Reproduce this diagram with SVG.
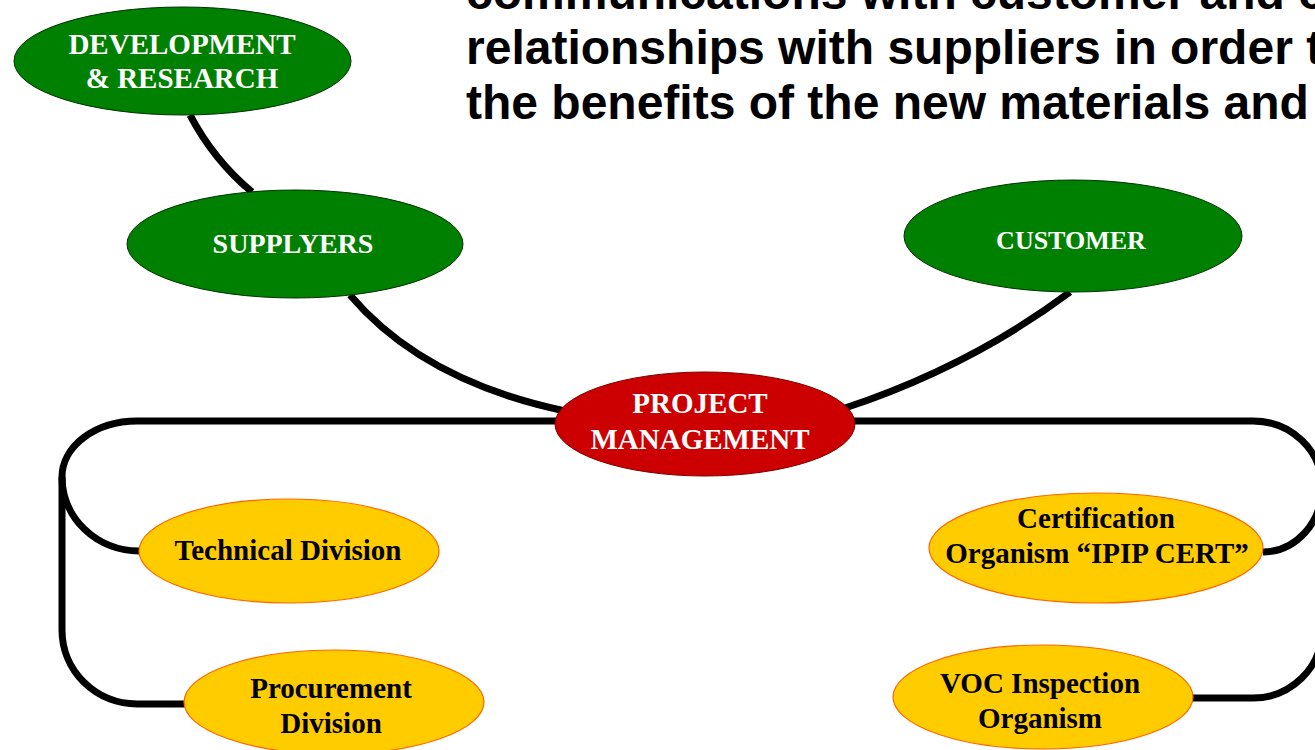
<svg xmlns="http://www.w3.org/2000/svg" width="1315" height="750" viewBox="0 0 1315 750">
<style>
.title{font-family:"Liberation Sans",Arial,sans-serif;font-weight:bold;font-size:48px;fill:#000}
.lbl{font-family:"Liberation Serif","Times New Roman",serif;font-weight:bold;font-size:29px;text-anchor:middle}
.w{fill:#fff}
.k{fill:#000}
.green{fill:#008000;stroke:#003300;stroke-width:1}
.red{fill:#CC0000;stroke:#800000;stroke-width:1}
.yel{fill:#FFCC00;stroke:#FF6600;stroke-width:1.2}
.conn path{fill:none;stroke:#000;stroke-width:7}
</style>
<rect width="1315" height="750" fill="#fff"/>
<g id="title" class="title">
<text x="466" y="9">communications with customer and close</text>
<text x="466" y="64">relationships with suppliers in order to</text>
<text x="466" y="119">the benefits of the new materials and</text>
</g>
<g id="connectors" class="conn">
<path d="M190 115 Q214 160.5 252 192"/>
<path d="M350 295 Q423 381 565 411"/>
<path d="M1070 292 Q971 366 845 408"/>
<path d="M560 421 H137 A75 56 0 0 0 62 477 A77 74 0 0 0 139 551"/>
<path d="M62 477 V630 A75 74 0 0 0 137 704 H186"/>
<path d="M850 421 H1253 A69 66 0 0 1 1322 487 V630 A69 68 0 0 1 1253 698 H1191"/>
<path d="M1322 487 A59 65 0 0 1 1263 552"/>
</g>
<g id="dev-research">
<ellipse class="green" cx="182.5" cy="61" rx="168.5" ry="54"/>
<text class="lbl w" x="182" y="54">DEVELOPMENT</text>
<text class="lbl w" x="182" y="88">&amp; RESEARCH</text>
</g>
<g id="supplyers">
<ellipse class="green" cx="295" cy="244" rx="168" ry="54"/>
<text class="lbl w" x="293" y="253" style="font-size:28px">SUPPLYERS</text>
</g>
<g id="customer">
<ellipse class="green" cx="1073" cy="236" rx="169" ry="56"/>
<text class="lbl w" x="1071" y="249" style="font-size:26px">CUSTOMER</text>
</g>
<g id="project-management">
<ellipse class="red" cx="705" cy="424" rx="150" ry="52"/>
<text class="lbl w" x="700" y="413">PROJECT</text>
<text class="lbl w" x="700" y="449">MANAGEMENT</text>
</g>
<g id="technical-division">
<ellipse class="yel" cx="289" cy="551" rx="150" ry="52"/>
<text class="lbl k" x="288" y="560">Technical Division</text>
</g>
<g id="procurement-division">
<ellipse class="yel" cx="334" cy="702" rx="150" ry="52"/>
<text class="lbl k" x="331" y="698">Procurement</text>
<text class="lbl k" x="331" y="733">Division</text>
</g>
<g id="certification">
<ellipse class="yel" cx="1096" cy="548" rx="167" ry="55"/>
<text class="lbl k" x="1096" y="528">Certification</text>
<text class="lbl k" x="1097" y="563">Organism “IPIP CERT”</text>
</g>
<g id="voc-inspection">
<ellipse class="yel" cx="1043" cy="697" rx="150" ry="52"/>
<text class="lbl k" x="1040" y="693">VOC Inspection</text>
<text class="lbl k" x="1040" y="728">Organism</text>
</g>
</svg>
